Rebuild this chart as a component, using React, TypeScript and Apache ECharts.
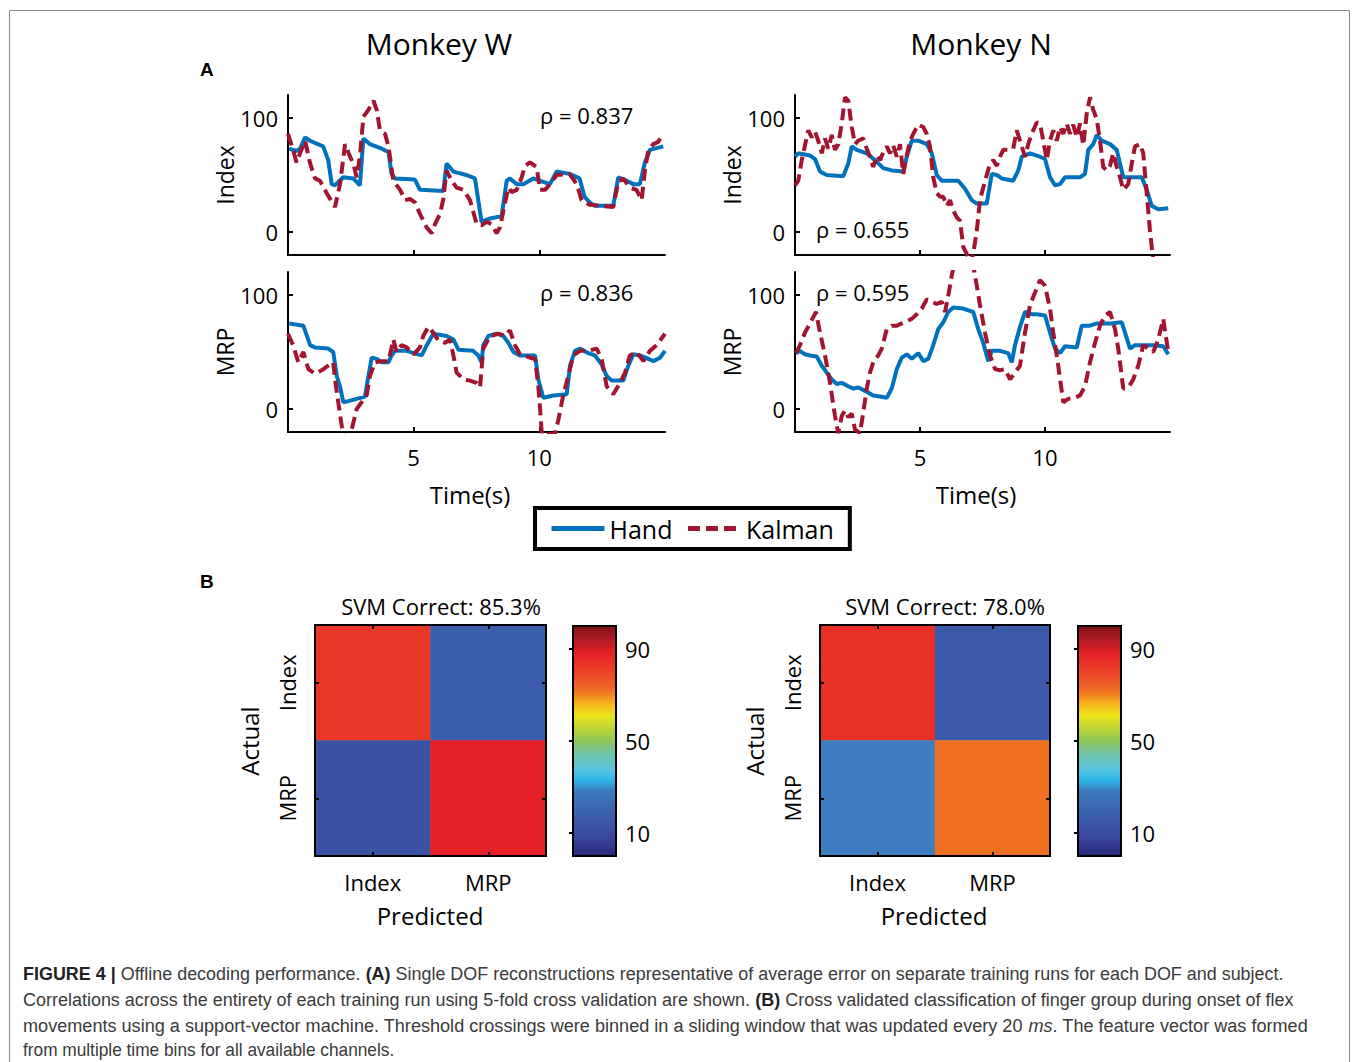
import React, { useEffect, useRef } from "react";
import * as echarts from "echarts";

const FONT = "'Open Sans', 'Noto Sans', sans-serif";
const CAP_FONT = "'Liberation Sans', Arial, sans-serif";
const BLUE = "#0072BD";
const RED = "#A2142F";

// ---------- Panel A data: [time (s), value] ----------
const W_INDEX_HAND: [number, number][] = [
  [0.05, 73], [0.34, 71], [0.48, 73], [0.68, 83], [0.87, 80], [1.4, 75], [1.6, 63], [1.74, 42], [1.87, 41],
  [2.2, 48], [2.6, 47], [2.86, 41], [3.0, 82], [3.26, 77], [3.73, 73], [4.0, 70], [4.12, 51], [4.26, 47],
  [5.05, 46], [5.25, 37], [6.18, 36], [6.31, 60], [6.58, 53], [7.1, 50], [7.44, 47], [7.57, 28], [7.7, 9],
  [8.04, 12], [8.5, 14], [8.7, 45], [8.83, 47], [9.1, 42], [9.36, 42], [9.76, 47], [10.16, 44], [10.42, 42],
  [10.69, 53], [11.2, 51], [11.6, 47], [11.8, 31], [12.0, 26], [12.2, 23], [12.94, 23], [13.14, 48],
  [13.47, 45], [13.74, 42], [14.0, 42], [14.2, 61], [14.4, 72], [14.93, 75],
];
const W_INDEX_KALMAN: [number, number][] = [
  [0.0, 86], [0.2, 72], [0.34, 61], [0.48, 69], [0.68, 80], [0.87, 61], [1.07, 47], [1.27, 45], [1.54, 34],
  [1.87, 22], [2.07, 42], [2.27, 77], [2.47, 66], [2.6, 60], [2.73, 48], [2.86, 66], [3.0, 101], [3.2, 107],
  [3.4, 115], [3.53, 107], [3.66, 89], [3.86, 86], [4.0, 75], [4.19, 45], [4.46, 37], [4.66, 28], [4.85, 29],
  [5.05, 26], [5.25, 16], [5.52, 4], [5.72, -1], [5.85, 7], [6.05, 16], [6.18, 29], [6.31, 54], [6.51, 45],
  [6.71, 39], [6.98, 37], [7.24, 28], [7.51, 7], [7.7, 6], [7.9, 9], [8.1, 7], [8.3, -1], [8.43, 4],
  [8.63, 25], [8.77, 39], [8.9, 35], [9.1, 37], [9.3, 48], [9.43, 58], [9.63, 61], [9.89, 57], [10.03, 37],
  [10.23, 37], [10.42, 42], [10.69, 50], [11.2, 51], [11.49, 42], [11.68, 28], [12.0, 24], [12.94, 22],
  [13.14, 44], [13.34, 47], [13.6, 39], [13.87, 37], [14.07, 28], [14.2, 54], [14.34, 72], [14.54, 77],
  [14.73, 79], [14.93, 86],
];
const W_MRP_HAND: [number, number][] = [
  [0.05, 75], [0.61, 73], [0.88, 56], [1.07, 54], [1.6, 53], [1.8, 50], [1.94, 29], [2.07, 20], [2.2, 6],
  [2.4, 7], [3.06, 11], [3.2, 29], [3.33, 45], [3.53, 44], [3.73, 41], [4.0, 41], [4.12, 47], [4.26, 51],
  [4.72, 51], [5.0, 49], [5.32, 47], [5.52, 56], [5.78, 66], [6.31, 64], [6.58, 61], [6.78, 52], [7.37, 51],
  [7.57, 47], [7.7, 41], [7.77, 56], [7.97, 64], [8.3, 66], [8.57, 64], [8.77, 58], [8.97, 50], [9.23, 47],
  [9.83, 47], [9.96, 26], [10.16, 10], [10.56, 12], [11.09, 13], [11.22, 38], [11.42, 51], [11.62, 53],
  [11.95, 49], [12.21, 47], [12.48, 39], [12.68, 29], [12.88, 25], [13.34, 25], [13.54, 38], [13.74, 48],
  [14.0, 47], [14.34, 44], [14.54, 42], [14.8, 45], [15.0, 51],
];
const W_MRP_KALMAN: [number, number][] = [
  [0.0, 66], [0.2, 56], [0.41, 41], [0.61, 50], [0.81, 35], [1.07, 31], [1.34, 34], [1.6, 38], [1.8, 41],
  [1.87, 26], [2.0, 6], [2.14, -15], [2.27, -26], [2.47, -23], [2.6, -12], [2.73, 0], [2.93, 6], [3.13, 12],
  [3.26, 29], [3.46, 41], [3.73, 42], [4.0, 42], [4.19, 61], [4.32, 50], [4.52, 56], [4.72, 54], [5.0, 48],
  [5.25, 54], [5.38, 64], [5.58, 72], [5.78, 67], [5.98, 60], [6.25, 58], [6.45, 61], [6.58, 47], [6.71, 32],
  [6.98, 26], [7.24, 25], [7.5, 23], [7.64, 19], [7.77, 53], [8.04, 64], [8.37, 66], [8.63, 64], [8.83, 69],
  [9.03, 56], [9.23, 48], [9.63, 45], [9.83, 44], [9.96, 20], [10.03, 0], [10.1, -22], [10.62, -22],
  [10.76, -9], [10.95, 12], [11.15, 29], [11.35, 47], [11.62, 51], [11.95, 51], [12.28, 53], [12.48, 44],
  [12.68, 20], [12.94, 13], [13.21, 23], [13.41, 32], [13.6, 47], [13.87, 50], [14.14, 42], [14.4, 51],
  [14.67, 56], [15.0, 66],
];
const N_INDEX_HAND: [number, number][] = [
  [0.0, 66], [0.13, 69], [0.6, 67], [0.8, 64], [1.0, 53], [1.27, 50], [1.93, 49], [2.13, 60], [2.27, 75],
  [2.47, 72], [2.87, 69], [3.2, 63], [3.53, 56], [3.87, 54], [4.33, 53], [4.47, 66], [4.67, 80], [4.93, 80],
  [5.27, 77], [5.47, 69], [5.67, 50], [5.87, 45], [6.53, 45], [6.8, 38], [7.07, 28], [7.27, 25], [7.67, 25],
  [7.87, 51], [8.07, 50], [8.27, 47], [8.73, 45], [8.93, 54], [9.07, 66], [9.4, 69], [9.8, 66], [10.0, 64],
  [10.2, 48], [10.4, 41], [10.6, 42], [10.8, 48], [11.4, 48], [11.6, 51], [11.73, 72], [11.93, 77],
  [12.07, 85], [12.27, 80], [12.6, 77], [12.87, 72], [13.13, 48], [13.4, 48], [13.87, 48], [14.07, 37],
  [14.27, 23], [14.53, 20], [14.93, 21],
];
const N_INDEX_KALMAN: [number, number][] = [
  [0.0, 41], [0.13, 45], [0.27, 63], [0.4, 76], [0.53, 89], [0.67, 83], [0.8, 88], [0.93, 80], [1.07, 69],
  [1.2, 82], [1.33, 73], [1.47, 85], [1.6, 72], [1.73, 77], [1.87, 95], [2.0, 118], [2.13, 115], [2.27, 92],
  [2.4, 77], [2.53, 80], [2.73, 82], [2.87, 73], [3.0, 66], [3.13, 57], [3.27, 67], [3.4, 63], [3.53, 70],
  [3.67, 75], [3.8, 69], [3.93, 76], [4.07, 66], [4.2, 77], [4.33, 51], [4.47, 67], [4.6, 80], [4.8, 89],
  [4.93, 94], [5.13, 92], [5.27, 86], [5.4, 75], [5.53, 48], [5.67, 34], [5.8, 31], [5.93, 31], [6.07, 23],
  [6.2, 28], [6.33, 19], [6.47, 13], [6.6, 10], [6.73, -13], [6.87, -19], [7.0, -28], [7.13, -19], [7.27, 1],
  [7.4, 28], [7.53, 39], [7.67, 50], [7.8, 60], [7.93, 63], [8.07, 58], [8.2, 66], [8.33, 72], [8.53, 72],
  [8.73, 73], [8.87, 89], [9.0, 80], [9.2, 66], [9.33, 77], [9.47, 86], [9.67, 96], [9.8, 95], [9.93, 80],
  [10.07, 63], [10.2, 80], [10.33, 89], [10.47, 80], [10.6, 92], [10.73, 86], [10.87, 95], [11.0, 86],
  [11.13, 94], [11.27, 83], [11.4, 95], [11.53, 76], [11.67, 104], [11.8, 118], [11.93, 107], [12.07, 99],
  [12.2, 80], [12.33, 57], [12.47, 54], [12.6, 58], [12.73, 69], [12.87, 57], [13.0, 48], [13.13, 37],
  [13.33, 42], [13.47, 60], [13.6, 75], [13.8, 77], [13.93, 69], [14.07, 34], [14.2, 1], [14.3, -19],
  [14.36, -30],
];
const N_MRP_HAND: [number, number][] = [
  [0.04, 49], [0.2, 51], [0.4, 48], [0.6, 47], [0.87, 46], [1.07, 38], [1.27, 32], [1.47, 26], [1.67, 22],
  [1.87, 23], [2.13, 20], [2.33, 18], [2.53, 19], [2.8, 16], [3.13, 12], [3.4, 11], [3.67, 10], [3.87, 18],
  [4.07, 35], [4.27, 45], [4.47, 48], [4.67, 44], [4.93, 49], [5.13, 42], [5.33, 44], [5.53, 56], [5.73, 70],
  [5.93, 76], [6.13, 85], [6.33, 89], [6.73, 88], [7.13, 85], [7.33, 70], [7.53, 58], [7.73, 42], [7.87, 51],
  [8.2, 51], [8.53, 49], [8.67, 41], [8.8, 56], [9.0, 72], [9.2, 85], [9.47, 83], [9.67, 83], [10.0, 82],
  [10.2, 67], [10.4, 53], [10.6, 49], [10.8, 55], [11.27, 54], [11.47, 73], [11.8, 73], [12.07, 75],
  [12.6, 75], [13.07, 76], [13.2, 67], [13.4, 53], [13.6, 56], [13.93, 56], [14.33, 56], [14.73, 55],
  [14.93, 48],
];
const N_MRP_KALMAN: [number, number][] = [
  [0.04, 49], [0.2, 56], [0.4, 67], [0.6, 75], [0.84, 85], [1.0, 67], [1.2, 47], [1.4, 23], [1.6, -6],
  [1.73, -21], [1.87, -6], [2.0, -1], [2.13, -7], [2.27, -4], [2.4, -18], [2.6, -21], [2.73, -3], [2.87, 18],
  [3.0, 32], [3.13, 41], [3.33, 47], [3.47, 53], [3.67, 70], [3.87, 73], [4.07, 73], [4.27, 75], [4.47, 77],
  [4.67, 79], [4.87, 83], [5.07, 88], [5.27, 96], [5.47, 94], [5.67, 92], [5.87, 94], [6.0, 85], [6.13, 99],
  [6.27, 117], [6.4, 130], [7.1, 130], [7.27, 108], [7.4, 91], [7.6, 67], [7.8, 47], [8.0, 35], [8.2, 34],
  [8.4, 35], [8.6, 26], [8.8, 32], [9.0, 38], [9.2, 67], [9.4, 91], [9.6, 102], [9.8, 113], [10.0, 108],
  [10.2, 88], [10.33, 67], [10.53, 38], [10.73, 6], [10.93, 9], [11.2, 10], [11.4, 12], [11.6, 20],
  [11.8, 41], [12.0, 58], [12.2, 73], [12.4, 82], [12.6, 85], [12.8, 70], [12.93, 53], [13.13, 18],
  [13.33, 19], [13.53, 26], [13.73, 38], [13.93, 56], [14.13, 53], [14.33, 50], [14.53, 61], [14.73, 79],
  [14.93, 50],
];

const RHO_LABELS = ["ρ = 0.837", "ρ = 0.836", "ρ = 0.655", "ρ = 0.595"];
const ROW_NAMES = ["Index", "MRP", "Index", "MRP"];
const MONKEYS = ["Monkey W", "Monkey N"];
const TIME_TICKS = [5, 10];
const VALUE_TICKS = [0, 100];

// ---------- Panel B data ----------
const CLASSES = ["Index", "MRP"];
// rows = actual, columns = predicted (percent)
const CONF_W = [[82.9, 17.1], [12.3, 87.7]];
const CONF_N = [[84.3, 15.7], [28.3, 71.7]];
const SVM_TITLES = ["SVM Correct: 85.3%", "SVM Correct: 78.0%"];
const CBAR_TICKS = [10, 50, 90];

// ---------- colormap (style) ----------
const CMAP_STOPS: [number, string][] = [
  [0, "#27287a"], [8, "#38479c"], [15, "#3b58a8"], [22, "#3c6ab3"], [28, "#3d78bc"], [33, "#2bb6ea"],
  [38, "#5cc4dc"], [44, "#70c3b0"], [50, "#8ec658"], [56, "#c2d733"], [61, "#ede51b"], [66, "#f8b51b"],
  [72, "#f06c23"], [80, "#ea4327"], [88, "#e51f26"], [94, "#b31b22"], [100, "#7d1315"],
];
function hexRgb(h: string) {
  return [parseInt(h.slice(1, 3), 16), parseInt(h.slice(3, 5), 16), parseInt(h.slice(5, 7), 16)];
}
function cmapAt(v: number) {
  for (let i = 0; i < CMAP_STOPS.length - 1; i++) {
    const [a, ca] = CMAP_STOPS[i];
    const [b, cb] = CMAP_STOPS[i + 1];
    if (v >= a && v <= b) {
      const t = (v - a) / (b - a);
      const A = hexRgb(ca), B = hexRgb(cb);
      const c = A.map((x, k) => Math.round(x + (B[k] - x) * t));
      return `rgb(${c[0]},${c[1]},${c[2]})`;
    }
  }
  return CMAP_STOPS[CMAP_STOPS.length - 1][1];
}
const CMAP_COLORS: string[] = [];
for (let i = 0; i <= 100; i++) CMAP_COLORS.push(cmapAt(i));

function txt(text: string, x: number, y: number, size: number, opts: any = {}) {
  return {
    type: "text",
    x,
    y,
    rotation: opts.rotation || 0,
    scaleX: opts.scaleX || 1,
    z: 100,
    style: {
      text,
      fill: opts.fill || "#000",
      fontSize: size,
      fontFamily: opts.fontFamily || FONT,
      fontWeight: opts.fontWeight || "normal",
      align: opts.align || "center",
      verticalAlign: "middle",
      textAlign: opts.align || "center",
      textVerticalAlign: "middle",
      rich: opts.rich,
    },
  };
}

export default function App() {
  const ref = useRef<HTMLDivElement>(null);
  useEffect(() => {
    if (!ref.current) return;
    const chart = echarts.init(ref.current, null, { renderer: "svg" });

    const lineGrids = [
      { left: 288, top: 95, width: 377, height: 160 },
      { left: 288, top: 272, width: 377, height: 160 },
      { left: 795, top: 95, width: 375, height: 160 },
      { left: 795, top: 272, width: 375, height: 160 },
    ];
    const heatGrids = [
      { left: 315, top: 625, width: 231, height: 231 },
      { left: 820, top: 625, width: 230, height: 231 },
    ];
    const cbGrids = [
      { left: 573, top: 626, width: 43, height: 230 },
      { left: 1078, top: 626, width: 43, height: 230 },
    ];

    const grid: any[] = [];
    lineGrids.forEach((g) => grid.push({ ...g }));
    heatGrids.forEach((g) => grid.push({ ...g, show: true, borderColor: "#000", borderWidth: 2, z: 10 }));
    cbGrids.forEach((g) => grid.push({ ...g, show: true, borderColor: "#000", borderWidth: 2, z: 10 }));

    const xAxis: any[] = [];
    const yAxis: any[] = [];
    const axLine = { show: true, onZero: false, lineStyle: { color: "#000", width: 2 } };
    lineGrids.forEach((_, i) => {
      xAxis.push({
        gridIndex: i, type: "value", min: 0, max: 15,
        axisLine: axLine,
        axisTick: { show: true, inside: true, length: 5, customValues: TIME_TICKS, lineStyle: { color: "#000", width: 2 } },
        axisLabel: { show: i % 2 === 1, customValues: TIME_TICKS, fontSize: 22, color: "#000", margin: 14, fontFamily: FONT },
        splitLine: { show: false },
      });
      yAxis.push({
        gridIndex: i, type: "value", min: -20, max: 120,
        axisLine: axLine,
        axisTick: { show: true, inside: true, length: 5, customValues: VALUE_TICKS, lineStyle: { color: "#000", width: 2 } },
        axisLabel: { show: true, customValues: VALUE_TICKS, fontSize: 22, color: "#000", margin: 10, fontFamily: FONT },
        splitLine: { show: false },
        name: ROW_NAMES[i], nameLocation: "middle", nameGap: 45,
        nameTextStyle: { fontSize: 23, color: "#000", fontFamily: FONT },
      });
    });
    const tick = { show: true, inside: true, length: 4, alignWithLabel: true, lineStyle: { color: "#000", width: 2 } };
    heatGrids.forEach((_, k) => {
      const gi = 4 + k;
      xAxis.push({
        gridIndex: gi, type: "category", data: CLASSES, position: "bottom", z: 12,
        axisLine: { show: false }, axisTick: tick,
        axisLabel: { fontSize: 22, color: "#000", margin: 15, fontFamily: FONT },
      });
      xAxis.push({
        gridIndex: gi, type: "category", data: CLASSES, position: "top", z: 12,
        axisLine: { show: false }, axisTick: tick, axisLabel: { show: false },
      });
      yAxis.push({
        gridIndex: gi, type: "category", data: CLASSES, inverse: true, position: "left", z: 12,
        axisLine: { show: false }, axisTick: tick,
        axisLabel: { fontSize: 22, color: "#000", margin: 17, rotate: 90, fontFamily: FONT },
      });
      yAxis.push({
        gridIndex: gi, type: "category", data: CLASSES, inverse: true, position: "right", z: 12,
        axisLine: { show: false }, axisTick: tick, axisLabel: { show: false },
      });
    });
    cbGrids.forEach((_, k) => {
      const gi = 6 + k;
      xAxis.push({ gridIndex: gi, type: "value", min: 0, max: 1, show: false });
      yAxis.push({
        gridIndex: gi, type: "value", min: 0, max: 100, position: "right", z: 12,
        axisLine: { show: false },
        axisTick: { show: true, inside: true, length: 4, customValues: CBAR_TICKS, lineStyle: { color: "#000", width: 2 } },
        axisLabel: { customValues: CBAR_TICKS, fontSize: 22, color: "#000", margin: 9, fontFamily: FONT },
        splitLine: { show: false },
      });
    });

    const lineData = [
      [W_INDEX_HAND, W_INDEX_KALMAN],
      [W_MRP_HAND, W_MRP_KALMAN],
      [N_INDEX_HAND, N_INDEX_KALMAN],
      [N_MRP_HAND, N_MRP_KALMAN],
    ];
    const series: any[] = [];
    lineData.forEach(([hand, kal], i) => {
      series.push({
        type: "line", name: "Hand", xAxisIndex: i, yAxisIndex: i, data: hand,
        symbol: "none", lineStyle: { color: BLUE, width: 4 }, itemStyle: { color: BLUE },
        clip: true, silent: true,
      });
      series.push({
        type: "line", name: "Kalman", xAxisIndex: i, yAxisIndex: i, data: kal,
        symbol: "none", lineStyle: { color: RED, width: 4, type: [12, 6] }, itemStyle: { color: RED },
        clip: true, silent: true,
      });
    });
    const heatData = (m: number[][]) => {
      const out: number[][] = [];
      m.forEach((row, r) => row.forEach((v, c) => out.push([c, r, v])));
      return out;
    };
    series.push({
      type: "heatmap", xAxisIndex: 4, yAxisIndex: 4, data: heatData(CONF_W),
      itemStyle: { borderWidth: 0 }, emphasis: { disabled: true }, silent: true,
    });
    series.push({
      type: "heatmap", xAxisIndex: 6, yAxisIndex: 6, data: heatData(CONF_N),
      itemStyle: { borderWidth: 0 }, emphasis: { disabled: true }, silent: true,
    });

    const vm = (seriesIndex: number, g: any) => ({
      type: "continuous", seriesIndex, dimension: 2, min: 0, max: 100,
      inRange: { color: CMAP_COLORS },
      calculable: false, realtime: false, hoverLink: false,
      left: g.left, top: g.top, itemWidth: g.width, itemHeight: g.height,
      padding: 0, text: null, showLabel: false, z: 5,
    });

    const graphic: any[] = [
      {
        type: "rect", shape: { x: 9.5, y: 10.5, width: 1340, height: 1070 }, z: 0,
        style: { fill: "none", stroke: "#8a8a8a", lineWidth: 1 },
      },
      txt(MONKEYS[0], 439, 43, 30),
      txt(MONKEYS[1], 981, 43, 30),
      txt("A", 200, 69, 19, { align: "left", fontWeight: "bold", fontFamily: CAP_FONT }),
      txt("B", 200, 581, 19, { align: "left", fontWeight: "bold", fontFamily: CAP_FONT }),
      txt(RHO_LABELS[0], 540, 115, 22, { align: "left" }),
      txt(RHO_LABELS[1], 540, 292, 22, { align: "left" }),
      txt(RHO_LABELS[2], 816, 229, 22, { align: "left" }),
      txt(RHO_LABELS[3], 816, 292, 22, { align: "left" }),
      txt("Time(s)", 470, 494, 24),
      txt("Time(s)", 976, 494, 24),
      txt(SVM_TITLES[0], 441, 606, 22),
      txt(SVM_TITLES[1], 945, 606, 22),
      txt("Actual", 249, 741, 24, { rotation: Math.PI / 2 }),
      txt("Actual", 754, 741, 24, { rotation: Math.PI / 2 }),
      txt("Predicted", 430, 915, 24),
      txt("Predicted", 934, 915, 24),
    ];
    const CAP_SIZE = 19;
    const capRich = {
      b: { fontWeight: "bold", fontFamily: CAP_FONT, fontSize: CAP_SIZE, fill: "#222", color: "#222" },
      i: { fontStyle: "italic", fontFamily: CAP_FONT, fontSize: CAP_SIZE, fill: "#3a3a3a", color: "#3a3a3a" },
    };
    const capLines = [
      "{b|FIGURE 4 |} Offline decoding performance. {b|(A)} Single DOF reconstructions representative of average error on separate training runs for each DOF and subject.",
      "Correlations across the entirety of each training run using 5-fold cross validation are shown. {b|(B)} Cross validated classification of finger group during onset of flex",
      "movements using a support-vector machine. Threshold crossings were binned in a sliding window that was updated every 20 {i|ms}. The feature vector was formed",
      "from multiple time bins for all available channels.",
    ];
    const capY = [973, 999, 1025, 1050];
    const capScale = [0.944, 0.946, 0.953, 0.909];
    capLines.forEach((l, k) =>
      graphic.push(
        txt(l, 23, capY[k], CAP_SIZE, { align: "left", fontFamily: CAP_FONT, fill: "#3a3a3a", rich: capRich, scaleX: capScale[k] })
      )
    );

    chart.setOption({
      animation: false,
      backgroundColor: "#fff",
      grid,
      xAxis,
      yAxis,
      series,
      visualMap: [vm(8, cbGrids[0]), vm(9, cbGrids[1])],
      legend: {
        data: ["Hand", "Kalman"],
        left: 535, top: 508,
        orient: "horizontal",
        padding: [8, 16, 8, 14],
        itemGap: 13,
        itemWidth: 53,
        itemHeight: 20,
        borderColor: "#000",
        borderWidth: 4,
        selectedMode: false,
        itemStyle: { opacity: 0, color: "rgba(0,0,0,0)", borderWidth: 0 },
        lineStyle: { width: 5 },
        textStyle: { fontSize: 25, color: "#000", fontFamily: FONT },
      },
      graphic: { elements: graphic },
    });
    return () => chart.dispose();
  }, []);
  return <div ref={ref} style={{ position: "absolute", left: 0, top: 0, width: 1358, height: 1062 }} />;
}
